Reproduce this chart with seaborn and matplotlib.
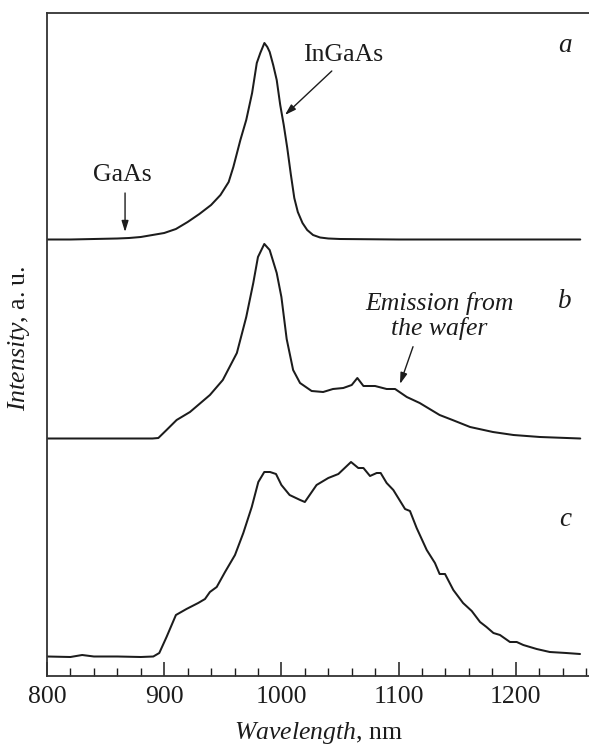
import numpy as np
import pandas as pd
import matplotlib
matplotlib.use("Agg")
import matplotlib.pyplot as plt
import seaborn as sns
from matplotlib.ticker import MultipleLocator

# ---------------- data ----------------
wl_a = [800, 820, 840, 860, 870, 880, 890, 900, 910, 920, 930, 940, 948, 955,
        959, 965, 970, 975, 979, 982, 985.5, 988, 990, 993, 996, 999, 1002,
        1005, 1008, 1011, 1014, 1018, 1022, 1027, 1033, 1040, 1050, 1100, 1255]
int_a = [0.5, 0.5, 1, 1.5, 2, 3, 5, 7, 11, 18, 26, 35, 45, 58,
         73, 100, 120, 147, 177, 187, 197, 193, 188, 175, 160, 135, 115,
         92, 66, 42, 28, 17, 10, 5, 2.5, 1.5, 1, 0.5, 0.5]

wl_b = [800, 830, 860, 890, 895, 902, 910.6, 922, 939, 950, 962, 970, 976,
        980, 985.4, 990, 996, 1000, 1004.5, 1010, 1015.9, 1025.8, 1035.6,
        1044, 1052.8, 1060, 1064.8, 1070, 1079.9, 1089.8, 1097, 1107, 1118,
        1135, 1146, 1161, 1180.5, 1198, 1220.6, 1255]
int_b = [0.5, 0.5, 0.5, 0.5, 1, 9, 19, 27, 44, 59, 86, 122, 156,
         182, 195, 189, 166, 142, 100, 69, 56, 48, 47,
         50, 51, 54, 61, 53, 53, 50, 50, 42, 36,
         24, 19, 12, 7, 4, 2, 0.5]

wl_c = [800, 820, 830, 840, 860, 880, 890.7, 895.8, 902, 910, 919, 929,
        934.8, 939, 944.8, 951.9, 960.4, 967.5, 974.7, 980.3, 985.4, 990.3,
        995.4, 1000, 1007, 1016, 1020, 1030, 1040, 1048.6, 1059.4, 1065.6,
        1070, 1075.6, 1081.3, 1084.7, 1089.8, 1095.5, 1105.5, 1109.7, 1115.4,
        1124, 1131, 1135, 1139.6, 1146.7, 1155, 1162.4, 1169.5, 1175, 1180.9,
        1186.5, 1195, 1200.8, 1206.4, 1217.8, 1229, 1243, 1254.8]
int_c = [0.5, 0, 2, 0.5, 0.5, 0, 0.5, 4, 20, 42, 48, 54,
         58, 65, 70, 85, 102, 124, 150, 175, 185, 185,
         183, 172, 162, 157, 155, 172, 179, 183, 195, 189,
         189, 181, 184, 184, 174, 167, 148, 146, 129,
         107, 94, 83, 83, 67, 54, 46, 35, 30, 24,
         22, 15, 15, 12, 8, 5, 4, 3]

labels = ["a", "b", "c"]
offsets = [436, 237, 19]

# ---------------- style ----------------
sns.set_theme(style="ticks")
plt.rcParams["font.family"] = ["Liberation Serif", "DejaVu Serif"]
plt.rcParams["mathtext.fontset"] = "custom"
plt.rcParams["mathtext.rm"] = "Liberation Serif"
plt.rcParams["mathtext.it"] = "Liberation Serif:italic"

FS = 18.5
INK = "#1c1c1c"

frames = []
for lab, wl, it, off in zip(labels, [wl_a, wl_b, wl_c], [int_a, int_b, int_c], offsets):
    frames.append(pd.DataFrame({"wl": wl, "y": np.asarray(it, float) + off, "s": lab}))
df = pd.concat(frames, ignore_index=True)

fig = plt.figure(figsize=(5.89, 7.45), dpi=100)
ax = fig.add_axes([47 / 589, 1 - 676 / 745, 1 - 47 / 589, (676 - 13) / 745])

sns.lineplot(data=df, x="wl", y="y", units="s", estimator=None, sort=False,
             color=INK, linewidth=1.45, ax=ax, legend=False)

ax.set_xlim(800, 800 + 542 / 1.172)
ax.set_ylim(0, 663)
ax.set_yticks([])
ax.xaxis.set_major_locator(MultipleLocator(100))
ax.xaxis.set_minor_locator(MultipleLocator(20))
ax.tick_params(axis="x", which="major", direction="in", length=10, width=1.1,
               labelsize=FS, pad=7.5, color=INK, labelcolor=INK)
ax.tick_params(axis="x", which="minor", direction="in", length=5.5, width=1.0, color=INK)
for side in ["left", "bottom", "top"]:
    ax.spines[side].set_linewidth(1.3)
    ax.spines[side].set_color("#333333")
ax.spines["right"].set_visible(False)

ax.set_xlabel(r"$\mathit{Wavelength}$, nm", fontsize=FS, color=INK)
ax.set_ylabel(r"$\mathit{Intensity}$, a. u.", fontsize=FS, color=INK)
ax.xaxis.set_label_coords(0.5, -0.066)
ax.yaxis.set_label_coords(-0.028, 0.51)

# curve letters
for lab, ypos in zip(labels, [631, 374, 156]):
    ax.text(1242, ypos, lab, fontsize=FS + 1, style="italic", ha="center",
            va="center", color=INK)

arrow = dict(arrowstyle="-|>,head_length=0.55,head_width=0.17", color=INK,
             lw=1.0, shrinkA=0, shrinkB=0)

ax.text(1052.6, 621, "InGaAs", fontsize=FS, ha="center", va="center", color=INK)
ax.annotate("", xy=(1003, 561), xytext=(1043, 605), arrowprops=arrow)

ax.text(864, 501, "GaAs", fontsize=FS, ha="center", va="center", color=INK)
ax.annotate("", xy=(866.6, 444), xytext=(866.6, 483), arrowprops=arrow)

ax.text(1135, 360, "Emission from\nthe wafer", fontsize=FS, style="italic",
        ha="center", va="center", linespacing=1.12, color=INK)
ax.annotate("", xy=(1101.2, 292), xytext=(1112.3, 329.3), arrowprops=arrow)

fig.savefig("out.png", dpi=100)
